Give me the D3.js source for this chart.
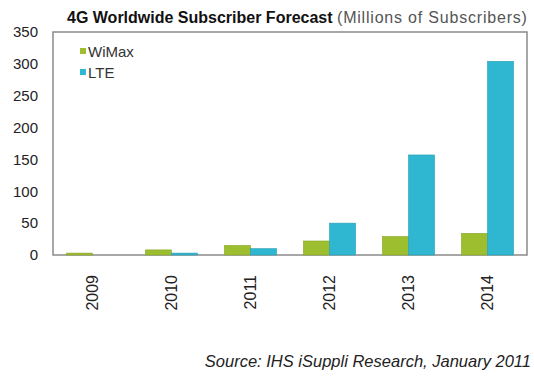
<!DOCTYPE html>
<html>
<head>
<meta charset="utf-8">
<script src="https://cdn.jsdelivr.net/npm/d3@7"></script>
<style>
  body { margin: 0; background: #fff; }
  svg { font-family: "Liberation Sans", Arial, sans-serif; }
</style>
</head>
<body>
<svg id="chart" width="534" height="379"></svg>
<script>
const years = ['2009', '2010', '2011', '2012', '2013', '2014'];
const seriesNames = ['WiMax', 'LTE'];
const wimax = [3, 8, 15, 22, 29, 34];
const lte = [0, 3, 10, 50, 157, 304];
const yTicks = [0, 50, 100, 150, 200, 250, 300, 350];
const colors = ['#9dbf2f', '#2fb6d1'];

const margin = { top: 32, right: 7, bottom: 124, left: 53 };
const width = 534, height = 379;
const innerW = width - margin.left - margin.right;
const innerH = height - margin.top - margin.bottom;

const svg = d3.select('#chart');

// title
const title = svg.append('text')
  .attr('x', 67)
  .attr('y', 23);
title.append('tspan')
  .style('font-weight', 'bold')
  .style('font-size', '16px')
  .attr('fill', '#111')
  .text('4G Worldwide Subscriber Forecast ');
title.append('tspan')
  .style('font-size', '16px')
  .style('letter-spacing', '0.8px')
  .attr('fill', '#555')
  .text('(Millions of Subscribers)');

const g = svg.append('g')
  .attr('transform', `translate(${margin.left},${margin.top})`);

const x0 = d3.scaleBand()
  .domain(years)
  .range([0, innerW])
  .paddingInner(0.34)
  .paddingOuter(0.17);

const x1 = d3.scaleBand()
  .domain(seriesNames)
  .range([0, x0.bandwidth()]);

const y = d3.scaleLinear()
  .domain([0, 350])
  .range([innerH, 0]);

// frame
g.append('rect')
  .attr('width', innerW)
  .attr('height', innerH)
  .attr('fill', 'none')
  .attr('stroke', '#8a8a8a')
  .attr('stroke-width', 1.5);

const rows = years.map((yr, i) => ({ year: yr, values: [wimax[i], lte[i]] }));

// bars
g.selectAll('.grp')
  .data(rows)
  .enter()
  .append('g')
  .attr('class', 'grp')
  .attr('transform', d => `translate(${x0(d.year)},0)`)
  .selectAll('rect')
  .data(d => d.values.map((v, k) => ({ key: seriesNames[k], value: v, k })))
  .enter()
  .append('rect')
  .attr('x', d => x1(d.key))
  .attr('y', d => y(d.value))
  .attr('width', x1.bandwidth())
  .attr('height', d => innerH - y(d.value))
  .attr('fill', d => colors[d.k])
  .attr('stroke', d => d3.color(colors[d.k]).darker(0.4))
  .attr('stroke-width', 0.6);

// y axis labels
const yAxis = g.append('g')
  .call(d3.axisLeft(y).tickValues(yTicks).tickSize(0).tickPadding(15));
yAxis.select('.domain').remove();
yAxis.selectAll('text')
  .style('font-size', '15px')
  .style('font-family', '"Liberation Sans", Arial, sans-serif')
  .attr('fill', '#222');

// x axis labels (rotated)
const xAxis = g.append('g')
  .attr('transform', `translate(0,${innerH})`)
  .call(d3.axisBottom(x0).tickSize(0));
xAxis.select('.domain').remove();
xAxis.selectAll('text')
  .style('font-size', '16px')
  .style('font-family', '"Liberation Sans", Arial, sans-serif')
  .attr('fill', '#222')
  .attr('transform', 'rotate(-90)')
  .attr('text-anchor', 'end')
  .attr('x', -20)
  .attr('y', 0)
  .attr('dy', '0.35em');

// legend
const legend = svg.append('g')
  .attr('transform', 'translate(80,48)');
seriesNames.forEach((name, i) => {
  const row = legend.append('g').attr('transform', `translate(0,${i * 21})`);
  row.append('rect')
    .attr('width', 6)
    .attr('height', 6)
    .attr('fill', colors[i]);
  row.append('text')
    .attr('x', 8)
    .attr('y', 8.5)
    .style('font-size', '15px')
    .attr('fill', '#333')
    .text(name);
});

// source
svg.append('text')
  .attr('x', 531)
  .attr('y', 367)
  .attr('text-anchor', 'end')
  .style('font-size', '16.5px')
  .style('font-style', 'italic')
  .attr('fill', '#222')
  .text('Source: IHS iSuppli Research, January 2011');
</script>
</body>
</html>
